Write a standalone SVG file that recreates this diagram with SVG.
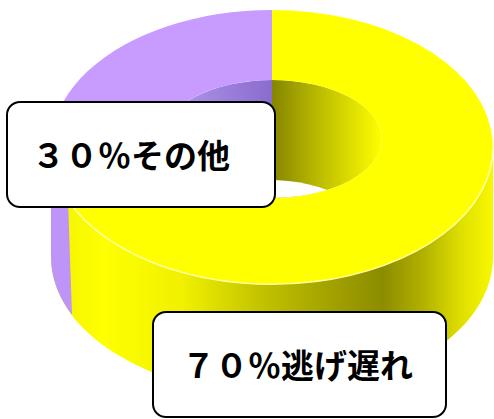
<svg xmlns="http://www.w3.org/2000/svg" width="494" height="419" viewBox="0 0 494 419">
<style>
.box{fill:#ffffff;stroke:#000000;stroke-width:2}
.lbl{font-family:"Noto Sans CJK JP","Noto Sans CJK SC",sans-serif;font-size:33px;font-weight:bold;fill:#000000}
</style>
<defs>
<linearGradient id="wallY" gradientUnits="userSpaceOnUse" x1="51" y1="0" x2="493" y2="0">
<stop offset="0" stop-color="#f2f200"/>
<stop offset="0.12" stop-color="#ffff00"/>
<stop offset="0.3" stop-color="#f0f000"/>
<stop offset="0.47" stop-color="#c4c400"/>
<stop offset="0.6" stop-color="#a8a800"/>
<stop offset="0.75" stop-color="#8c8c00"/>
<stop offset="0.84" stop-color="#b0b000"/>
<stop offset="0.93" stop-color="#e0e000"/>
<stop offset="1" stop-color="#f8f800"/>
</linearGradient>
<linearGradient id="holeY" gradientUnits="userSpaceOnUse" x1="272" y1="0" x2="382" y2="0">
<stop offset="0" stop-color="#858500"/>
<stop offset="0.4" stop-color="#b8b800"/>
<stop offset="1" stop-color="#ffff00"/>
</linearGradient>
<linearGradient id="holeP" gradientUnits="userSpaceOnUse" x1="162" y1="0" x2="272" y2="0">
<stop offset="0" stop-color="#b49af0"/>
<stop offset="1" stop-color="#8a6ccc"/>
</linearGradient>
<clipPath id="hole"><ellipse cx="272" cy="139" rx="110" ry="59"/></clipPath>
</defs>
<g id="donut">
<path d="M51,147 L51,257 A221 137 0 0 0 493,257 L493,147 A221 137 0 0 1 51,147 Z" fill="url(#wallY)"/>
<path d="M51,147 L51,257 A221 137 0 0 0 72,315 L68,200 A221 137 0 0 1 51,147 Z" fill="#bf94f8"/>
<g clip-path="url(#hole)">
<rect x="160" y="78" width="112" height="125" fill="url(#holeP)"/>
<rect x="272" y="78" width="112" height="125" fill="url(#holeY)"/>
<ellipse cx="268" cy="236" rx="104" ry="56" fill="#ffffff"/>
</g>
<path d="M272,10 A221 137 0 0 0 68,200 L170.5,161.7 A110 59 0 0 1 272,80 Z" fill="#c89cff"/>
<path d="M272,10 A221 137 0 1 1 68,200 L170.5,161.7 A110 59 0 1 0 272,80 Z" fill="#ffff00"/>
<path d="M68,200 A221 137 0 0 0 493,147" fill="none" stroke="#ffffa0" stroke-width="1.5"/>
</g>
<g id="label-other">
<rect x="7" y="102" width="268" height="105" rx="13" class="box"/>
<text x="32" y="168" class="lbl">３０％その他</text>
</g>
<g id="label-late">
<rect x="153" y="312" width="293" height="105" rx="13" class="box"/>
<text x="182" y="378" class="lbl">７０％逃げ遅れ</text>
</g>
</svg>
